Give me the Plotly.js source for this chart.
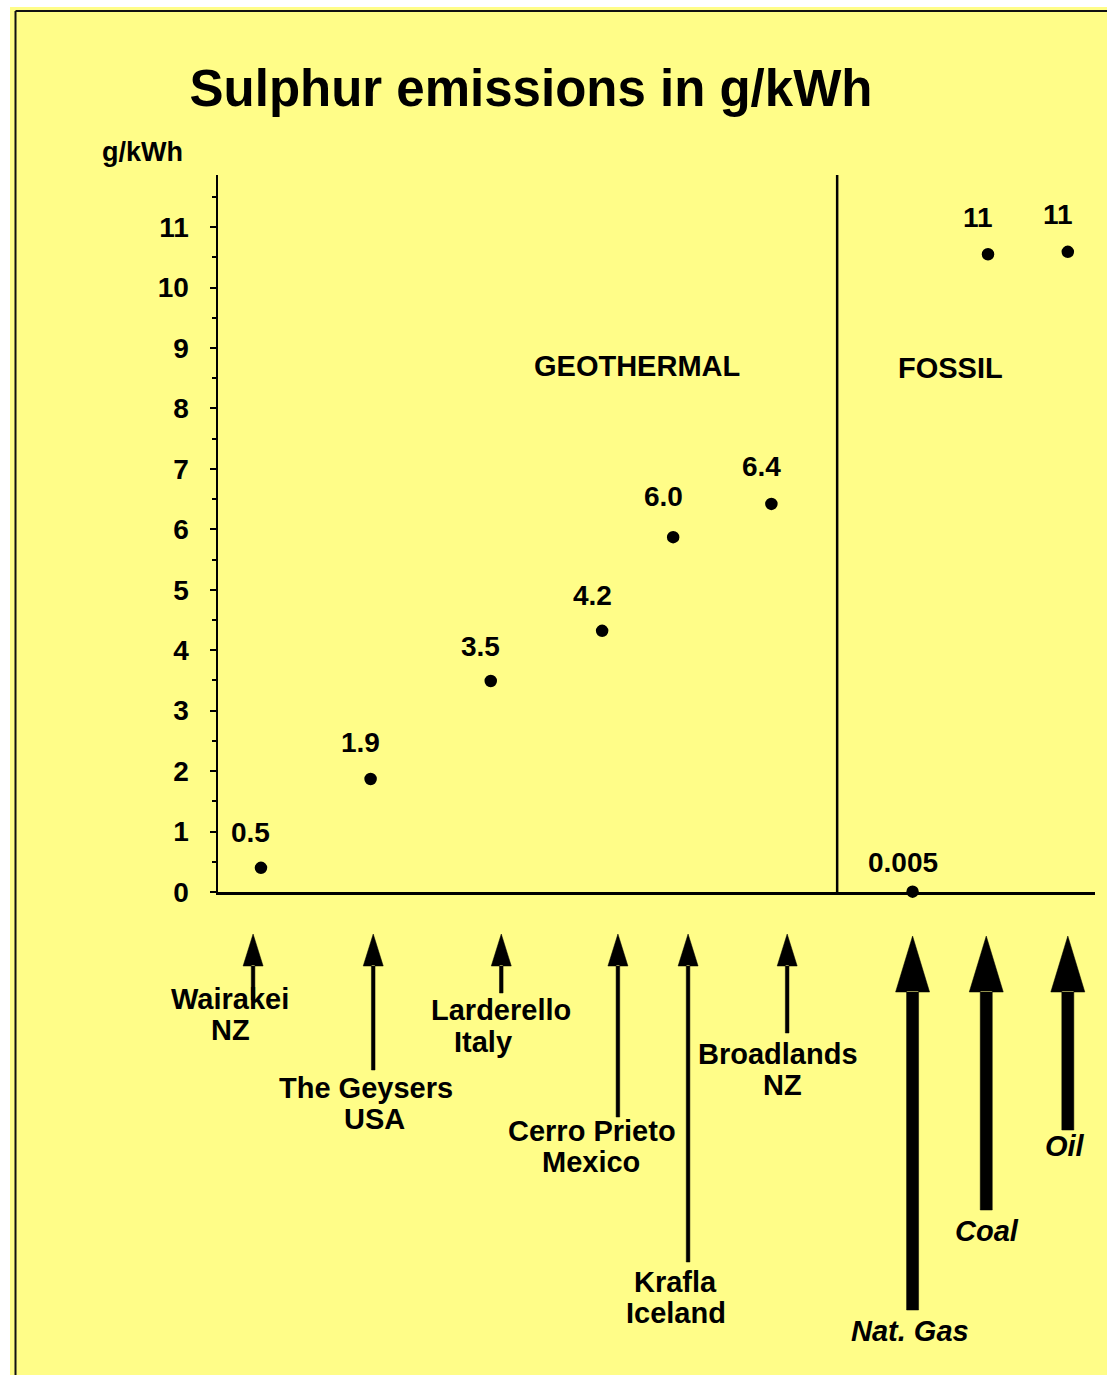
<!DOCTYPE html>
<html>
<head>
<meta charset="utf-8">
<script src="https://cdn.plot.ly/plotly-3.0.1.min.js"></script>
<style>html,body{margin:0;padding:0;background:#fff;}#chart{width:1107px;height:1375px;}</style>
</head>
<body>
<div id="chart"></div>
<script>
// ---- data ----
const sites = ["Wairakei NZ","The Geysers USA","Larderello Italy","Cerro Prieto Mexico","Krafla Iceland","Broadlands NZ","Nat. Gas","Coal","Oil"];
const groups = ["geo","geo","geo","geo","geo","geo","fossil","fossil","fossil"];
const valueLabels = ["0.5","1.9","3.5","4.2","6.0","6.4","0.005","11","11"];
const plottedValues = [0.40,1.87,3.49,4.32,5.87,6.42,0.005,10.55,10.59];
const siteX = [4.9,17.4,31.1,43.8,51.9,63.1,79.2,87.8,96.9];
const nameLine1 = ["Wairakei","The Geysers","Larderello","Cerro Prieto","Krafla","Broadlands","Nat. Gas","Coal","Oil"];
const nameLine2 = ["NZ","USA","Italy","Mexico","Iceland","NZ","","",""];
const yTicks = [0,1,2,3,4,5,6,7,8,9,10,11];

// ---- layout helpers (positions/styles) ----
const W = 1107, H = 1375, L = 218, R = 1095, T = 175, B = 892;
const XMAX = 100, YMAX = (B - T) / 60.45;
const xpx = x => L + x / XMAX * (R - L);
const xp = px => (px - L) / (R - L);
const yp = p => (B - p) / (B - T);
const arrowX = [4.0,17.7,32.3,45.6,53.6,64.9,79.2,87.6,96.9];
const arrowTail = [1000,1070,993,1117,1262,1033,1310,1210,1130];
const label1X = [1.4,16.9,32.3,42.6,52.2,63.9,78.9,87.7,96.6];
const label2X = [1.4,17.8,30.2,42.5,52.2,64.4,0,0,0];
const label1Y = [999,1088,1010,1131,1282,1054,1331,1231,1146];
const label2Y = [1030,1119,1042,1162,1313,1085,0,0,0];
const valShiftY = [35,36,35,35,41,37,29,37,37];
const dividerX = 70.6;
const FONT = "Liberation Sans, Arial, Helvetica, sans-serif";
const YEL = "#FFFD88";

const shapes = [];
// yellow sheet + border
shapes.push({type:"rect", xref:"paper", yref:"paper", x0:xp(10), x1:xp(1110), y0:yp(1380), y1:yp(7), fillcolor:YEL, line:{width:0}, layer:"below"});
shapes.push({type:"line", xref:"paper", yref:"paper", x0:xp(15.5), x1:xp(15.5), y0:yp(11), y1:yp(1380), line:{color:"#111", width:2}});
shapes.push({type:"line", xref:"paper", yref:"paper", x0:xp(15.5), x1:xp(1110), y0:yp(11), y1:yp(11), line:{color:"#111", width:2}});
// divider
shapes.push({type:"line", xref:"x", yref:"paper", x0:dividerX, x1:dividerX, y0:0, y1:1, line:{color:"#000", width:2.5}});
// arrows
arrowX.forEach((ax, i) => {
  const thick = groups[i] === "fossil";
  const cx = xpx(ax);
  const tip = thick ? 936 : 934;
  const base = thick ? 992 : 966;
  const hw = thick ? 17 : 10;
  const sw = thick ? 6 : 1.8;
  const path = `M${xp(cx-hw)},${yp(base)} L${xp(cx)},${yp(tip)} L${xp(cx+hw)},${yp(base)} Z ` +
    `M${xp(cx-sw)},${yp(base-1)} L${xp(cx+sw)},${yp(base-1)} L${xp(cx+sw)},${yp(arrowTail[i])} L${xp(cx-sw)},${yp(arrowTail[i])} Z`;
  shapes.push({type:"path", xref:"paper", yref:"paper", path:path, fillcolor:"#000", line:{color:"#000", width:0.5}});
});

const annotations = [];
const txt = (text, x, xref, y, yref, size, extra) => Object.assign({text:text, x:x, xref:xref, y:y, yref:yref, showarrow:false,
  xanchor:"center", yanchor:"middle", font:{family:FONT, size:size, color:"#000"}}, extra || {});
// value labels
valueLabels.forEach((v, i) => annotations.push(txt("<b>"+v+"</b>", siteX[i], "x", plottedValues[i], "y", 28, {xshift:-10, yshift:valShiftY[i]})));
// site names
nameLine1.forEach((n, i) => {
  const t = groups[i] === "fossil" ? "<b><i>"+n+"</i></b>" : "<b>"+n+"</b>";
  annotations.push(txt(t, label1X[i], "x", yp(label1Y[i]), "paper", 29));
  if (nameLine2[i]) annotations.push(txt("<b>"+nameLine2[i]+"</b>", label2X[i], "x", yp(label2Y[i]), "paper", 29));
});
annotations.push(txt("<b>GEOTHERMAL</b>", 47.8, "x", yp(366), "paper", 29));
annotations.push(txt("<b>FOSSIL</b>", 83.5, "x", yp(368), "paper", 29));
annotations.push(txt("<b>g/kWh</b>", xp(142), "paper", yp(152), "paper", 27));

const trace = {
  type:"scatter", mode:"markers", x:siteX, y:plottedValues, cliponaxis:false,
  marker:{size:15, color:"#000", line:{color:YEL, width:2.5}},
  hoverinfo:"text", text:sites
};

const layout = {
  width:W, height:H,
  margin:{l:L, r:W-R, t:T, b:H-B, pad:0},
  paper_bgcolor:"#fff", plot_bgcolor:"rgba(0,0,0,0)",
  showlegend:false,
  title:{text:"<b>Sulphur emissions in g/kWh</b>", x:531/W, xref:"container", xanchor:"center", y:1-88/H, yref:"container", yanchor:"middle",
    font:{family:FONT, size:51, color:"#000"}},
  xaxis:{range:[0, XMAX], showline:true, linecolor:"#000", linewidth:2.5, showgrid:false, zeroline:false, showticklabels:false, ticks:"", fixedrange:true},
  yaxis:{range:[0, YMAX], showline:true, linecolor:"#000", linewidth:2.5, showgrid:false, zeroline:false,
    tickmode:"array", tickvals:yTicks, ticktext:yTicks.map(String), ticks:"outside", ticklen:6, tickwidth:2, tickcolor:"#000",
    ticklabelstandoff:15,
    tickfont:{family:FONT, size:28, color:"#000", weight:"bold"},
    minor:{dtick:0.5, ticks:"outside", ticklen:4, tickwidth:2, tickcolor:"#000"},
    fixedrange:true},
  shapes:shapes,
  annotations:annotations
};

Plotly.newPlot("chart", [trace], layout, {displayModeBar:false, staticPlot:true});
</script>
</body>
</html>
